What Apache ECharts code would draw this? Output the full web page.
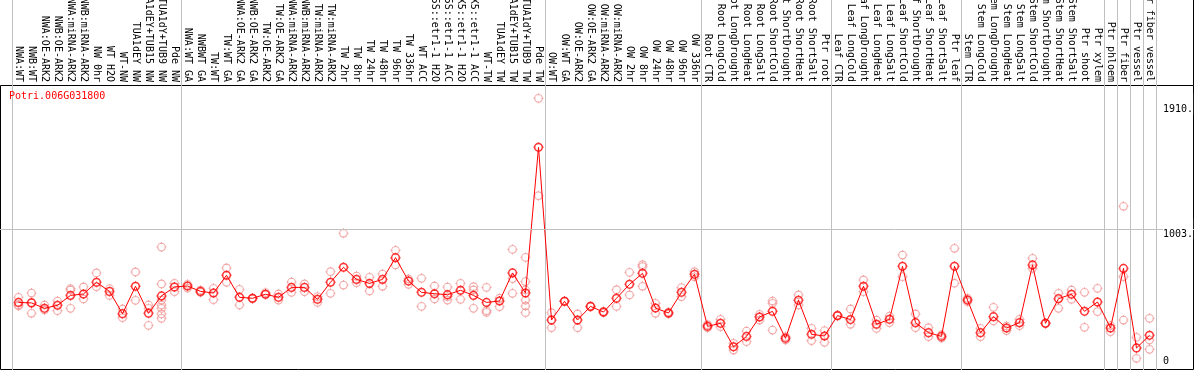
<!DOCTYPE html>
<html>
<head>
<meta charset="utf-8">
<title>Potri.006G031800</title>
<script src="https://cdn.jsdelivr.net/npm/echarts@6/dist/echarts.min.js"></script>
<style>
    html, body { margin: 0; padding: 0; background: #fff; }
    #chart { width: 1194px; height: 370px; }
</style>
</head>
<body>
<div id="chart"></div>
<script>
"use strict"

// 基因名
let geneName = "Potri.006G031800";

// 样本名（横轴）
let categories = [
    "NWA:WT", "NWB:WT", "NWA:OE-ARK2", "NWB:OE-ARK2", "NWA:miRNA-ARK2", "NWB:miRNA-ARK2",
    "NW 0hr", "WT H2O", "WT-NW", "TUA1dEY NW", "TUA1dEY+TUB15 NW", "TUA1dY+TUB9 NW", "Pde NW",
    "NWA:WT GA", "NWBWT GA", "TW:WT", "TW:WT GA", "NWA:OE-ARK2 GA", "NWB:OE-ARK2 GA",
    "TW:OE-ARK2", "TW:OE-ARK2 GA", "NWA:miRNA-ARK2", "NWB:miRNA-ARK2", "TW:miRNA-ARK2",
    "TW:miRNA-ARK2", "TW 2hr", "TW 8hr", "TW 24hr", "TW 48hr", "TW 96hr", "TW 336hr", "WT ACC",
    "35S::etr1-1 H2O", "35S::etr1-1 ACC", "LMX5::etr1-1 H2O", "LMX5::etr1-1 ACC", "WT-TW",
    "TUA1dEY TW", "TUA1dEY+TUB15 TW", "TUA1dY+TUB9 TW", "Pde TW",
    "OW:WT", "OW:WT GA", "OW:OE-ARK2", "OW:OE-ARK2 GA", "OW:miRNA-ARK2", "OW:miRNA-ARK2",
    "OW 2hr", "OW 8hr", "OW 24hr", "OW 48hr", "OW 96hr", "OW 336hr",
    "Root CTR", "Root LongCold", "Root LongDrought", "Root LongHeat", "Root LongSalt",
    "Root ShortCold", "Root ShortDrought", "Root ShortHeat", "Root ShortSalt", "Ptr root",
    "Leaf CTR", "Leaf LongCold", "Leaf LongDrought", "Leaf LongHeat", "Leaf LongSalt",
    "Leaf ShortCold", "Leaf ShortDrought", "Leaf ShortHeat", "Leaf ShortSalt", "Ptr leaf",
    "Stem CTR", "Stem LongCold", "Stem LongDrought", "Stem LongHeat", "Stem LongSalt",
    "Stem ShortCold", "Stem ShortDrought", "Stem ShortHeat", "Stem ShortSalt",
    "Ptr shoot", "Ptr xylem", "Ptr phloem", "Ptr fiber", "Ptr vessel", "Ptr fiber vessel"
];

// 每组第一个样本的序号（画分隔线）
let groupStarts = [0, 13, 41, 53, 63, 73, 84, 85, 86, 87];

// 平均值
let meanValues = [
    469, 465, 426, 448, 520, 530, 615, 549, 387, 586,
    390, 516, 581, 588, 549, 537, 666, 506, 499, 528,
    506, 578, 578, 491, 615, 724, 636, 607, 636, 794,
    624, 542, 532, 525, 557, 520, 469, 479, 683, 537,
    1595, 341, 477, 341, 440, 399, 499, 600, 680, 428,
    392, 542, 673, 295, 317, 147, 222, 363, 404, 208,
    484, 237, 225, 373, 344, 586, 310, 346, 731, 322,
    249, 222, 731, 486, 249, 365, 283, 322, 741, 317,
    496, 528, 404, 472, 283, 716, 138, 230
];

// 各重复的值
let replicateValues = [
    [506, 450, 443], [537, 469, 390], [450, 414], [479, 409], [569, 559, 426], [581, 494],
    [683, 583], [569, 520], [421, 358], [690, 484], [450, 426, 302],
    [871, 603, 486, 450, 426, 385, 353], [607, 547],
    [600, 573], [558, 542], [571, 489], [719, 615], [564, 450], [499, 496], [528, 540],
    [530, 486], [617, 542], [603, 547], [511, 469], [692, 535], [971, 595], [612, 660],
    [651, 552], [675, 586], [847, 741], [639, 600], [644, 440], [588, 494], [580, 511, 486],
    [607, 491], [583, 559, 426], [578, 409, 397], [499, 438], [854, 641, 535],
    [796, 620, 559, 486, 443, 394], [1951, 1244],
    [394, 285], [479, 475], [385, 285], [443, 437], [394, 404], [561, 440], [687, 523],
    [743, 729, 586], [462, 390], [385, 399], [576, 511], [692, 655],
    [307, 285], [346, 293], [172, 123], [261, 184], [382, 341], [479, 462, 268], [196, 220],
    [523, 450], [280, 191], [264, 179],
    [377, 369], [421, 310], [632, 547], [341, 280], [370, 322], [813, 656], [385, 285],
    [285, 220], [210, 234], [862, 608],
    [499, 474], [280, 220], [433, 334], [297, 264], [346, 300], [789, 716], [320, 314],
    [535, 426], [559, 491], [542, 288], [571, 402], [256, 300], [1167, 656, 341],
    [215, 63], [353, 196, 128]
];

// 纵轴刻度
let yTickValues = [0, 1003, 1910];
let yTickLabels = ["0", "1003.", "1910."];
let yGridValues = [1003];

let monoFont = '"DejaVu Sans Mono", monospace';
let gray = "#c0c0c0";
// 带十字小刻度的圆圈
let ringSymbol = "path://M12,7A5,5 0 1,1 2,7A5,5 0 1,1 12,7ZM7,0.5L7,3M7,11L7,13.5M0.5,7L3,7M11,7L13.5,7";

document.addEventListener("DOMContentLoaded", function () {
    let myChart = echarts.init(document.getElementById("chart"));

    // 重复值的散点
    let replicatePoints = [];
    replicateValues.forEach(function (arr, i) {
        arr.forEach(function (v) {
            replicatePoints.push([i, v]);
        });
    });
    let meanPoints = meanValues.map(function (v, i) {
        return [i, v];
    });

    function isGroupStart(index) {
        return groupStarts.indexOf(index) >= 0;
    }

    let option = {
        animation: false,
        backgroundColor: "#fff",
        title: {
            text: geneName,
            left: 9,
            top: 91,
            padding: 0,
            z: 10,
            textStyle: {
                color: "#ff0000",
                fontSize: 10,
                fontWeight: "normal",
                fontFamily: monoFont
            }
        },
        grid: [
            // 0 数据区
            { left: 12, right: 38, top: 85, bottom: 0, outerBoundsMode: "none", containLabel: false },
            // 1 边框
            { left: 0.5, right: 0.5, top: 85.5, bottom: 0.5, show: true, borderColor: "#000", borderWidth: 1, backgroundColor: "transparent", outerBoundsMode: "none" },
            // 2 横向网格线
            { left: 0, right: 0, top: 85, bottom: 0, outerBoundsMode: "none" },
            // 3 标签区的分隔线
            { left: 12, right: 38, top: 0, height: 85, outerBoundsMode: "none" },
            // 4 标签区右边框
            { left: 0, right: 0.5, top: 0, height: 85, outerBoundsMode: "none" }
        ],
        xAxis: [
            {
                gridIndex: 0,
                type: "category",
                data: categories,
                position: "top",
                boundaryGap: true,
                axisLine: { show: false, onZero: false },
                axisTick: { show: false },
                axisLabel: {
                    interval: 0,
                    rotate: 90,
                    margin: 3,
                    color: "#000",
                    fontSize: 10,
                    fontFamily: monoFont
                },
                splitLine: {
                    show: true,
                    interval: isGroupStart,
                    lineStyle: { color: gray, width: 1 }
                }
            },
            { gridIndex: 1, type: "value", show: false, min: 0, max: 1 },
            { gridIndex: 2, type: "value", show: false, min: 0, max: 1 },
            {
                gridIndex: 3,
                type: "category",
                data: categories,
                boundaryGap: true,
                axisLine: { show: false, onZero: false },
                axisTick: { show: false },
                axisLabel: { show: false },
                splitLine: {
                    show: true,
                    interval: isGroupStart,
                    lineStyle: { color: gray, width: 1 }
                }
            },
            { gridIndex: 4, type: "value", show: false, min: 0, max: 1 }
        ],
        yAxis: [
            {
                gridIndex: 0,
                type: "value",
                min: -22,
                max: 2048,
                position: "right",
                z: 5,
                axisLine: { show: false, onZero: false },
                axisTick: { show: false },
                splitLine: { show: false },
                axisLabel: {
                    customValues: yTickValues,
                    margin: 7,
                    color: "#000",
                    fontSize: 10,
                    fontFamily: monoFont,
                    formatter: function (v) {
                        let idx = yTickValues.indexOf(v);
                        let text = idx >= 0 ? yTickLabels[idx] : "";
                        return v === 0 ? "{lo|" + text + "}" : "{hi|" + text + "}";
                    },
                    rich: {
                        hi: {
                            fontSize: 10,
                            fontFamily: monoFont,
                            lineHeight: 11,
                            padding: [11, 0, 0, 0],
                            backgroundColor: "#fff"
                        },
                        lo: {
                            fontSize: 10,
                            fontFamily: monoFont,
                            lineHeight: 11,
                            padding: [0, 0, 11, 0]
                        }
                    }
                }
            },
            { gridIndex: 1, type: "value", show: false, min: 0, max: 1 },
            { gridIndex: 2, type: "value", show: false, min: -22, max: 2048 },
            { gridIndex: 3, type: "value", show: false, min: 0, max: 1 },
            {
                gridIndex: 4,
                type: "value",
                position: "right",
                min: 0,
                max: 1,
                axisLine: { show: true, onZero: false, lineStyle: { color: "#000", width: 1 } },
                axisTick: { show: false },
                axisLabel: { show: false },
                splitLine: { show: false }
            }
        ],
        series: [
            // 1003 横线
            {
                type: "line",
                xAxisIndex: 2,
                yAxisIndex: 2,
                data: [],
                z: 1,
                markLine: {
                    silent: true,
                    symbol: ["none", "none"],
                    label: { show: false },
                    lineStyle: { color: gray, type: "solid", width: 1 },
                    data: yGridValues.map(function (v) {
                        return { yAxis: v };
                    })
                }
            },
            // 重复
            {
                type: "scatter",
                xAxisIndex: 0,
                yAxisIndex: 0,
                data: replicatePoints,
                symbol: ringSymbol,
                symbolSize: 10,
                itemStyle: {
                    color: "rgba(0,0,0,0)",
                    borderColor: "#f09494",
                    borderWidth: 1.1
                },
                z: 2
            },
            // 平均值连线
            {
                type: "line",
                xAxisIndex: 0,
                yAxisIndex: 0,
                data: meanPoints,
                showSymbol: false,
                lineStyle: { color: "#ff0000", width: 1 },
                z: 3
            },
            // 平均值
            {
                type: "scatter",
                xAxisIndex: 0,
                yAxisIndex: 0,
                data: meanPoints,
                symbol: ringSymbol,
                symbolSize: 10,
                itemStyle: {
                    color: "rgba(0,0,0,0)",
                    borderColor: "#ff0000",
                    borderWidth: 1.5
                },
                z: 4
            }
        ]
    };
    myChart.setOption(option);
});
</script>
</body>
</html>
